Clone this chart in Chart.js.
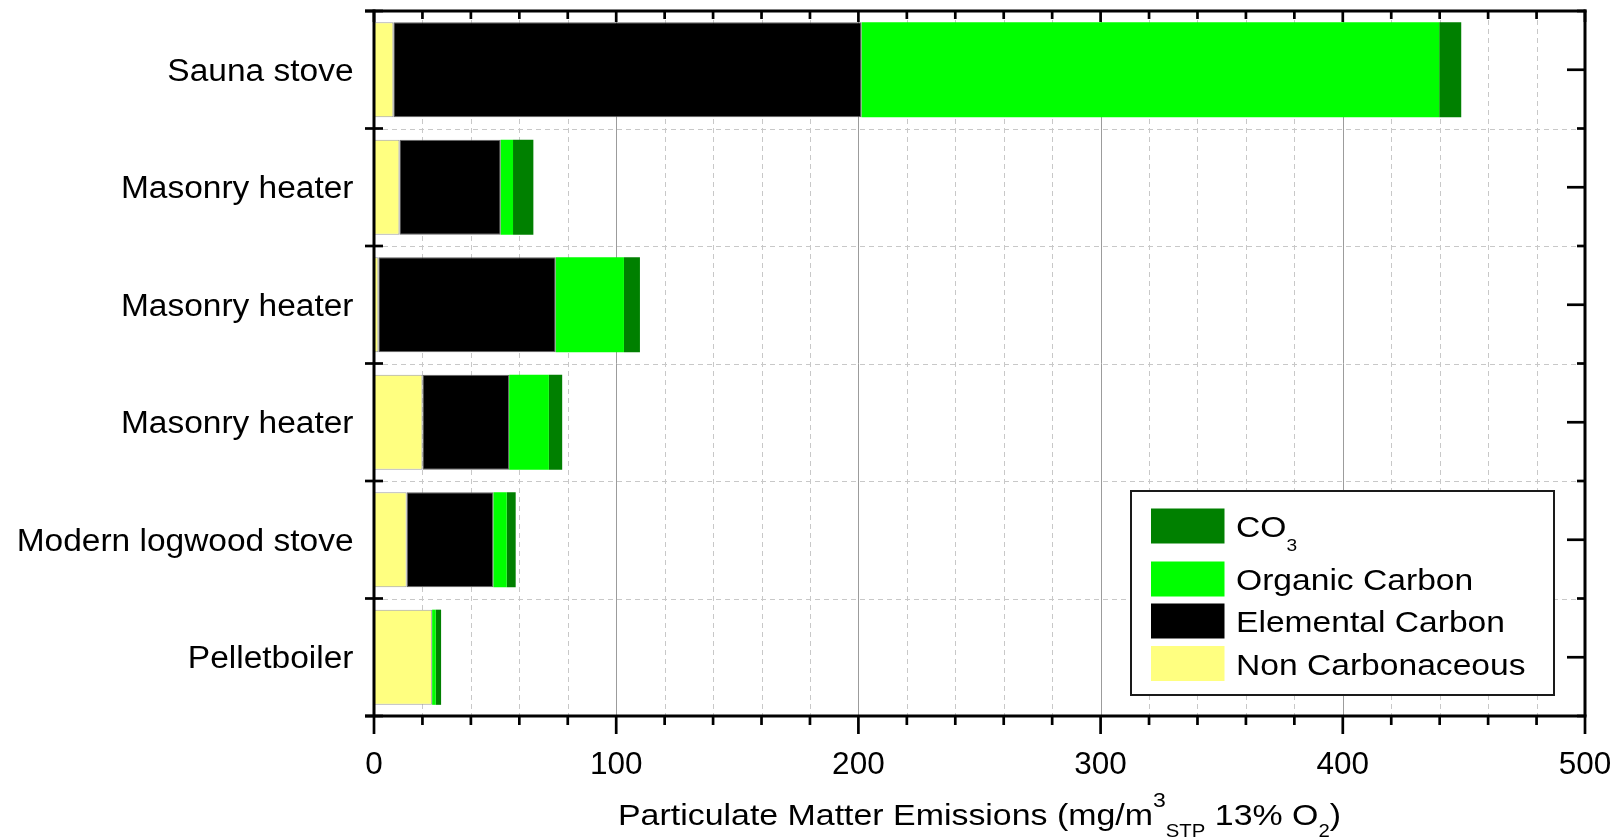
<!DOCTYPE html>
<html>
<head>
<meta charset="utf-8">
<script src="https://cdn.jsdelivr.net/npm/chart.js@4.4.1/dist/chart.umd.min.js"></script>
<style>
  html, body { margin: 0; padding: 0; background: #fff; }
  #wrap { width: 1616px; height: 838px; position: relative; }
</style>
</head>
<body>
<div id="wrap"><canvas id="chart"></canvas></div>
<script>
// data (mg/m3 STP, 13% O2)
const categories = ['Sauna stove', 'Masonry heater', 'Masonry heater', 'Masonry heater', 'Modern logwood stove', 'Pelletboiler'];
const nonCarbonaceous = [8.0, 10.5, 1.8, 20.0, 13.5, 24.0];
const elementalCarbon = [193.3, 41.8, 73.2, 35.8, 35.8, 0];
const organicCarbon = [238.5, 5.1, 28.2, 16.4, 5.5, 1.5];
const carbonate = [9.1, 8.4, 6.6, 5.5, 3.7, 2.2];
const xTicks = [0, 100, 200, 300, 400, 500];
const xMinorStep = 20;

const FONT = '"Liberation Sans", Arial, Helvetica, sans-serif';

// text pieces with sub/superscripts: k = size factor, dy = baseline shift factor
const titleRuns = [
    { t: 'Particulate Matter Emissions (mg/m' },
    { t: '3', k: 0.68, dy: -0.61 },
    { t: 'STP', k: 0.6, dy: 0.4 },
    { t: ' 13% O' },
    { t: '2', k: 0.6, dy: 0.4 },
    { t: ')' }
];

function drawRuns(ctx, runs, x, base, size, sx, align) {
    const parts = runs.map(r => {
        const s = size * (r.k || 1);
        ctx.font = s + 'px ' + FONT;
        return { t: r.t, s: s, dy: (r.dy || 0) * size, w: ctx.measureText(r.t).width * sx };
    });
    const total = parts.reduce((acc, p) => acc + p.w, 0);
    let cx = align === 'center' ? x - total / 2 : (align === 'right' ? x - total : x);
    parts.forEach(p => {
        ctx.save();
        ctx.font = p.s + 'px ' + FONT;
        ctx.textAlign = 'left';
        ctx.textBaseline = 'alphabetic';
        ctx.translate(cx, base + p.dy);
        ctx.scale(sx, 1);
        ctx.fillText(p.t, 0, 0);
        ctx.restore();
        cx += p.w;
    });
}

function seg(ctx, x1, y1, x2, y2) {
    ctx.beginPath();
    ctx.moveTo(x1, y1);
    ctx.lineTo(x2, y2);
    ctx.stroke();
}

function bandEdges(y) {
    const c0 = y.getPixelForValue(0);
    const band = y.getPixelForValue(1) - c0;
    const edges = [];
    for (let k = 0; k <= categories.length; k++) edges.push(c0 - band / 2 + k * band);
    return edges;
}

const framePlugin = {
    id: 'frame',
    beforeDatasetsDraw(chart) {
        const { ctx, chartArea: a, scales: { x, y } } = chart;
        ctx.save();
        ctx.lineWidth = 1;
        // dashed minor grid
        ctx.strokeStyle = '#c8c8c8';
        ctx.setLineDash([5, 4]);
        for (let v = xMinorStep; v < 500; v += xMinorStep) {
            if (v % 100 === 0) continue;
            const px = Math.round(x.getPixelForValue(v)) + 0.5;
            seg(ctx, px, a.top, px, a.bottom);
        }
        bandEdges(y).slice(1, -1).forEach(py => {
            const yy = Math.round(py) + 0.5;
            seg(ctx, a.left, yy, a.right, yy);
        });
        // solid major grid
        ctx.setLineDash([]);
        ctx.strokeStyle = '#9c9c9c';
        xTicks.slice(1, -1).forEach(v => {
            const px = Math.round(x.getPixelForValue(v)) + 0.5;
            seg(ctx, px, a.top, px, a.bottom);
        });
        ctx.restore();
    },
    afterDatasetsDraw(chart) {
        const { ctx, chartArea: a, scales: { x, y } } = chart;
        const edges = bandEdges(y);
        ctx.save();
        ctx.strokeStyle = '#000';
        ctx.lineWidth = 3;
        ctx.lineCap = 'butt';
        // frame
        seg(ctx, a.left - 9, a.top, a.right + 1.5, a.top);
        seg(ctx, a.left - 9, a.bottom, a.right + 1.5, a.bottom);
        seg(ctx, a.left, a.top - 1.5, a.left, a.bottom);
        seg(ctx, a.right, a.top - 1.5, a.right, a.bottom);
        // x ticks top (inward) and bottom (outward)
        ctx.lineWidth = 2.7;
        for (let v = 0; v <= 500; v += xMinorStep) {
            const px = x.getPixelForValue(v);
            const major = v % 100 === 0;
            seg(ctx, px, a.top, px, a.top + (major ? 11 : 8));
            seg(ctx, px, a.bottom, px, a.bottom + (major ? 18 : 9));
        }
        // y ticks
        edges.forEach(py => {
            seg(ctx, a.left - 9, py, a.left + 9, py);
            seg(ctx, a.right - 8, py, a.right, py);
        });
        categories.forEach((c, i) => {
            const py = y.getPixelForValue(i);
            seg(ctx, a.right - 18, py, a.right, py);
        });
        ctx.restore();

        // labels
        ctx.save();
        ctx.fillStyle = '#000';
        categories.forEach((c, i) => {
            drawRuns(ctx, [{ t: c }], a.left - 20.5, y.getPixelForValue(i) + 11, 31, 1.08, 'right');
        });
        xTicks.forEach(v => {
            drawRuns(ctx, [{ t: String(v) }], x.getPixelForValue(v), a.bottom + 58, 31.5, 1, 'center');
        });
        drawRuns(ctx, titleRuns, (a.left + a.right) / 2, a.bottom + 109, 30, 1.13, 'center');

        // legend box
        const bx = a.left + 757, by = a.top + 480, bw = 423, bh = 204;
        ctx.fillStyle = '#fff';
        ctx.fillRect(bx, by, bw, bh);
        ctx.strokeStyle = '#1a1a1a';
        ctx.lineWidth = 2;
        ctx.strokeRect(bx, by, bw, bh);
        const rowOffsets = [35, 88, 130, 172.5];
        const items = chart.data.datasets.slice().reverse();
        items.forEach((ds, i) => {
            const cy = by + rowOffsets[i];
            ctx.fillStyle = ds.backgroundColor;
            ctx.fillRect(bx + 20, cy - 17.5, 73.5, 35);
            ctx.fillStyle = '#000';
            drawRuns(ctx, ds.legendRuns, bx + 105, cy + 11, 30, 1.12, 'left');
        });
        ctx.restore();
    }
};

new Chart(document.getElementById('chart'), {
    type: 'bar',
    data: {
        labels: categories,
        datasets: [
            { label: 'Non Carbonaceous', data: nonCarbonaceous, backgroundColor: '#ffff80',
              borderColor: '#a0a0a0', borderWidth: 1, legendRuns: [{ t: 'Non Carbonaceous' }] },
            { label: 'Elemental Carbon', data: elementalCarbon, backgroundColor: '#000000',
              borderColor: '#606060', borderWidth: 1, legendRuns: [{ t: 'Elemental Carbon' }] },
            { label: 'Organic Carbon', data: organicCarbon, backgroundColor: '#00ff00',
              borderWidth: 0, legendRuns: [{ t: 'Organic Carbon' }] },
            { label: 'CO3', data: carbonate, backgroundColor: '#008000',
              borderWidth: 0, legendRuns: [{ t: 'CO' }, { t: '3', k: 0.57, dy: 0.47 }] }
        ]
    },
    options: {
        indexAxis: 'y',
        responsive: true,
        maintainAspectRatio: false,
        animation: false,
        layout: { padding: { left: 374, top: 11, right: 31, bottom: 122 } },
        datasets: { bar: { barPercentage: 0.81, categoryPercentage: 1, borderSkipped: false } },
        plugins: { legend: { display: false }, tooltip: { enabled: false } },
        scales: {
            x: { stacked: true, min: 0, max: 500, display: false },
            y: { stacked: true, offset: true, display: false }
        }
    },
    plugins: [framePlugin]
});
</script>
</body>
</html>
